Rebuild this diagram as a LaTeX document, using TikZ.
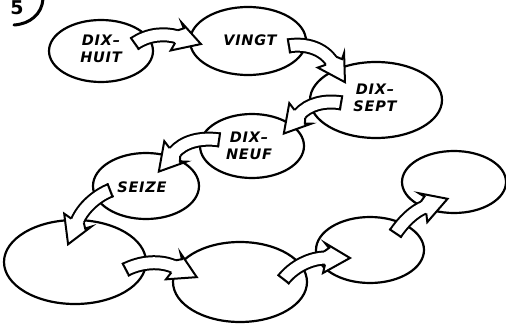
\documentclass[tikz,border=0pt]{standalone}
\usepackage{fontspec}
\setmainfont{DejaVu Sans}
\newfontfamily\handfont[LetterSpace=5]{DejaVu Sans}
\usetikzlibrary{shapes.geometric,decorations.markings}
\newcommand\barrow[1]{%
  \draw[line width=15pt] #1;
  \draw[white,line width=11pt] #1;
  \path[blockarr] #1;}
\begin{document}
\begin{tikzpicture}[x=1pt,y=-1pt,
  ell/.style={draw, ellipse, line width=2.2pt, inner sep=0pt},
  lbl/.style={font=\handfont\bfseries\itshape\fontsize{14.5}{16.5}\selectfont, align=center, inner sep=0pt},
  headshape/.style={draw, fill=white, line width=2pt, line join=miter},
  blockarr/.style={postaction={decorate, decoration={markings,
     mark=at position 0 with {\draw[line width=2pt] (1,-7.5) -- (1,7.5);},
     mark=at position 1 with {\draw[headshape] (-1,6.5) -- (-3,15) -- (24,0) -- (-1,-15) -- (3,-10) -- (-2,-6.5);}}}}]
\useasboundingbox (0,0) rectangle (506,324);
\clip (0,0) rectangle (506,324);
% ellipses
\node[ell, minimum width=104pt, minimum height=62pt] (e1) at (101,51) {};
\node[ell, minimum width=116pt, minimum height=68pt] (e2) at (248,41) {};
\node[ell, minimum width=132pt, minimum height=76pt] (e3) at (376,100) {};
\node[ell, minimum width=104pt, minimum height=64pt] (e4) at (252,146) {};
\node[ell, minimum width=106pt, minimum height=66pt] (e5) at (146,186) {};
\node[ell, minimum width=142pt, minimum height=84pt] (e6) at (75,262) {};
\node[ell, minimum width=134pt, minimum height=80pt] (e7) at (240,282) {};
\node[ell, minimum width=108pt, minimum height=66pt] (e8) at (370,250) {};
\node[ell, minimum width=104pt, minimum height=62pt] (e9) at (454,182) {};
% arrow end points
\coordinate (t1) at (134,44);  \coordinate (h1) at (178,37);
\coordinate (t2) at (288,46);  \coordinate (h2) at (332,62);
\coordinate (t3) at (342,103); \coordinate (h3) at (299,115);
\coordinate (t4) at (220,140); \coordinate (h4) at (174,153);
\coordinate (t5) at (111,190); \coordinate (h5) at (77,222);
\coordinate (t6) at (125,270); \coordinate (h6) at (175,267);
\coordinate (t7) at (283,280); \coordinate (h7) at (326,258);
\coordinate (t8) at (395,234); \coordinate (h8) at (425,207);
% block arrows
\barrow{(t1) .. controls (148,34) and (165,33) .. (h1)}
\barrow{(t2) .. controls (305,43) and (323,48) .. (h2)}
\barrow{(t3) .. controls (325,100) and (308,104) .. (h3)}
\barrow{(t4) .. controls (200,137) and (183,142) .. (h4)}
\barrow{(t5) .. controls (98,195) and (83,207) .. (h5)}
\barrow{(t6) .. controls (140,262) and (160,260) .. (h6)}
\barrow{(t7) .. controls (293,267) and (310,258) .. (h7)}
\barrow{(t8) .. controls (403,222) and (414,211) .. (h8)}
% labels
\node[lbl] (l1) at (101,49) {DIX–\\HUIT};
\node[lbl] (l2) at (250,40) {VINGT};
\node[lbl] (l3) at (375,98) {DIX–\\SEPT};
\node[lbl] (l4) at (249,146) {DIX–\\NEUF};
\node[lbl] (l5) at (142,187) {SEIZE};
% the number in the corner
\node[font=\bfseries\fontsize{19}{19}\selectfont, inner sep=0pt, anchor=north] (five) at (17,0.3) {5};
\draw[line width=3pt, line cap=round] (43,-1) .. controls (42,14) and (30,24) .. (14,25);
\end{tikzpicture}
\end{document}
